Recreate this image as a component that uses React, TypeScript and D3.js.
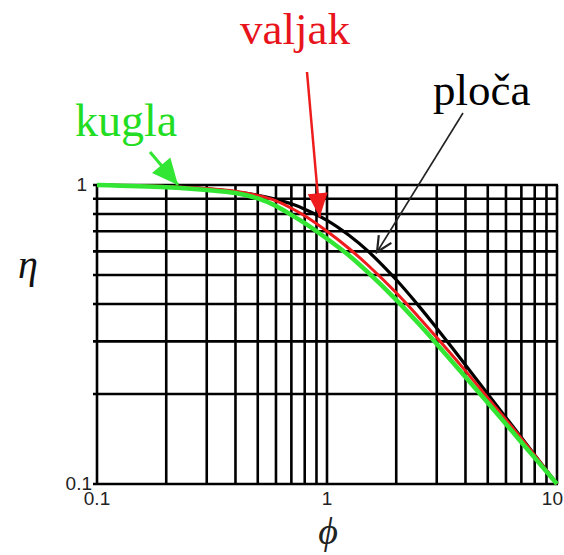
import React from "react";
import * as d3 from "d3";

// Fin efficiency η versus parameter ϕ for three fin geometries
const phi = [0.1, 0.2, 0.3, 0.4, 0.5, 0.6, 0.7, 0.8, 1, 1.25, 1.5, 2, 2.5, 3, 4, 5, 7, 10];
const plocaEta = [1.0, 0.987, 0.971, 0.949, 0.924, 0.895, 0.865, 0.83, 0.762, 0.678, 0.603, 0.482, 0.395, 0.332, 0.25, 0.2, 0.143, 0.1];
const valjakEta = [1.0, 0.989, 0.973, 0.953, 0.923, 0.885, 0.836, 0.789, 0.7, 0.612, 0.541, 0.436, 0.362, 0.309, 0.239, 0.194, 0.142, 0.1];
const kuglaEta = [1.0, 0.982, 0.962, 0.94, 0.902, 0.851, 0.794, 0.745, 0.661, 0.58, 0.512, 0.413, 0.344, 0.294, 0.228, 0.187, 0.138, 0.1];

// grid positions
const xGrid = [0.1, 0.2, 0.3, 0.4, 0.5, 0.6, 0.7, 0.8, 0.9, 1, 2, 3, 4, 5, 6, 7, 8, 9, 10];
const yGrid = [0.1, 0.2, 0.3, 0.4, 0.5, 0.6, 0.7, 0.8, 0.9, 1];
const xTickLabels = ["0.1", "1", "10"];
const yTickLabels = ["0.1", "1"];

// label arrows: tip in data space
const kuglaTip = [0.225, 1.0];
const valjakTip = [0.93, 0.78];
const plocaTip = [1.65, 0.597];

const W = 564;
const H = 555;

export default function App() {
  const x = d3.scaleLog().domain([0.1, 10]).range([97, 557]);
  const y = d3.scaleLog().domain([0.1, 1]).range([484, 185]);

  const line = (vals: number[]) =>
    d3
      .line<number>()
      .x((_, i) => x(phi[i]))
      .y((v) => y(v))
      .curve(d3.curveCatmullRom.alpha(0.5))(vals) as string;

  const serif = "'Liberation Serif', 'Times New Roman', serif";
  const sans = "'Liberation Sans', Arial, sans-serif";

  // filled arrowhead polygon pointing from (x0,y0) to (x1,y1)
  const head = (x0: number, y0: number, x1: number, y1: number, len: number, half: number) => {
    const a = Math.atan2(y1 - y0, x1 - x0);
    const bx = x1 - len * Math.cos(a);
    const by = y1 - len * Math.sin(a);
    const px = -Math.sin(a) * half;
    const py = Math.cos(a) * half;
    return `${x1},${y1} ${bx + px},${by + py} ${bx - px},${by - py}`;
  };

  const kTx = x(kuglaTip[0]);
  const kTy = y(kuglaTip[1]);
  const vTx = x(valjakTip[0]);
  const vTy = y(valjakTip[1]);
  const pTx = x(plocaTip[0]);
  const pTy = y(plocaTip[1]);

  const kStart = [150, 152];
  const vStart = [307, 72];
  const pStart = [463, 113];

  // open V head for the plate arrow
  const pa = Math.atan2(pTy - pStart[1], pTx - pStart[0]);
  const barb = (s: number) => {
    const ang = pa + Math.PI + s * 0.45;
    return [pTx + 17 * Math.cos(ang), pTy + 17 * Math.sin(ang)];
  };
  const b1 = barb(1);
  const b2 = barb(-1);

  return (
    <svg
      width={W}
      height={H}
      style={{ position: "absolute", left: 0, top: 0, background: "#fff" }}
    >
      {/* grid */}
      <g stroke="#000" strokeWidth={2.6}>
        {yGrid.map((v) => (
          <line key={"h" + v} x1={93} x2={x(10) + 1} y1={y(v)} y2={y(v)} />
        ))}
        {xGrid.map((v) => (
          <line key={"v" + v} x1={x(v)} x2={x(v)} y1={y(1)} y2={y(0.1)} />
        ))}
      </g>

      {/* tick labels */}
      <g fontFamily={sans} fontSize={19} fill="#222">
        {xTickLabels.map((t) => (
          <text
            key={"xl" + t}
            x={t === "10" ? 563 : x(+t)}
            y={505}
            textAnchor={t === "10" ? "end" : "middle"}
          >
            {t}
          </text>
        ))}
        {yTickLabels.map((t) => (
          <text key={"yl" + t} x={t === "1" ? 87 : 92} y={y(+t) + 6} textAnchor="end">
            {t}
          </text>
        ))}
      </g>

      {/* curves */}
      <path d={line(plocaEta)} fill="none" stroke="#000" strokeWidth={3.2} />
      <path d={line(valjakEta)} fill="none" stroke="#ee1c1c" strokeWidth={3} />
      <path d={line(kuglaEta)} fill="none" stroke="#33e633" strokeWidth={4.5} />

      {/* axis titles */}
      <text x={18} y={278} fontFamily={serif} fontStyle="italic" fontSize={40} fill="#111">
        η
      </text>
      <text x={328} y={544} fontFamily={serif} fontStyle="italic" fontSize={38} fill="#222" textAnchor="middle">
        ϕ
      </text>

      {/* kugla label and arrow */}
      <text x={75} y={136} fontFamily={serif} fontSize={46} fill="#22dd22">
        kugla
      </text>
      <line x1={kStart[0]} y1={kStart[1]} x2={kTx} y2={kTy} stroke="#33e633" strokeWidth={3} />
      <polygon points={head(kStart[0], kStart[1], kTx, kTy, 26, 12)} fill="#33e633" />

      {/* valjak label and arrow */}
      <text x={240} y={44} fontFamily={serif} fontSize={45} fill="#e8141c">
        valjak
      </text>
      <line x1={vStart[0]} y1={vStart[1]} x2={vTx} y2={vTy} stroke="#ee1c1c" strokeWidth={2.5} />
      <polygon points={head(vStart[0], vStart[1], vTx, vTy, 24, 10)} fill="#ee1c1c" />

      {/* ploča label and arrow */}
      <text x={433} y={105} fontFamily={serif} fontSize={45} fill="#000">
        ploča
      </text>
      <line x1={pStart[0]} y1={pStart[1]} x2={pTx} y2={pTy} stroke="#222" strokeWidth={1.6} />
      <polyline
        points={`${b1[0]},${b1[1]} ${pTx},${pTy} ${b2[0]},${b2[1]}`}
        fill="none"
        stroke="#222"
        strokeWidth={2.2}
      />
    </svg>
  );
}
